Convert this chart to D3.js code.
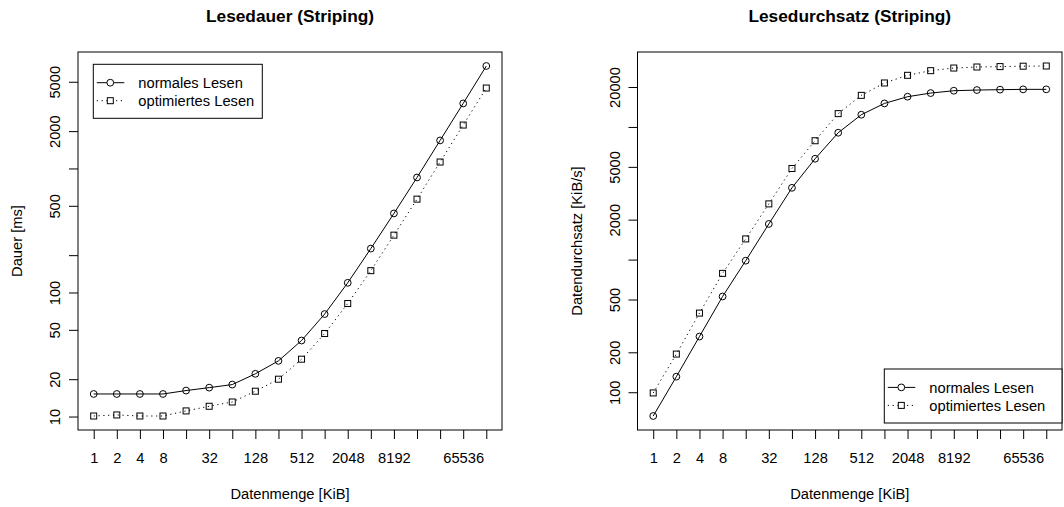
<!DOCTYPE html>
<html>
<head>
<meta charset="utf-8">
<script src="https://cdn.jsdelivr.net/npm/d3@7"></script>
<style>
  body { margin: 0; background: #fff; }
  svg { display: block; font-family: "Liberation Sans", Arial, sans-serif; }
</style>
</head>
<body>
<svg id="chart" width="1064" height="507"></svg>
<script>
// Datenmenge in KiB (x values)
const sizes = [1, 2, 4, 8, 16, 32, 64, 128, 256, 512, 1024, 2048, 4096, 8192, 16384, 32768, 65536, 131072];
const xLabels = [1, 2, 4, 8, 32, 128, 512, 2048, 8192, 65536];

// Lesedauer [ms]
const dauerNormal = [15.2, 15.2, 15.2, 15.2, 16.2, 17.1, 18.1, 22.1, 28.1, 41.0, 67, 119.7, 226, 434, 846, 1683, 3345, 6700];
const dauerOpt = [10.1, 10.3, 10.1, 10.1, 11.1, 12.1, 13.1, 16.0, 20.0, 29.0, 46.7, 81.5, 150, 290, 566, 1127, 2239, 4450];

// Lesedurchsatz [KiB/s]
const durchsatzNormal = [66.2, 131, 263, 527, 981, 1857, 3475, 5756, 9040, 12360, 15040, 16900, 18000, 18750, 18970, 19100, 19200, 19200];
const durchsatzOpt = [98.8, 194, 395, 787, 1432, 2630, 4860, 7870, 12600, 17300, 21450, 24500, 26560, 27800, 28300, 28500, 28700, 28800];

const dauerTicks = [10, 20, 50, 100, 200, 500, 1000, 2000, 5000];
const dauerLabels = [10, 20, 50, 100, 500, 2000, 5000];
const durchsatzTicks = [100, 200, 500, 1000, 2000, 5000, 10000, 20000];
const durchsatzLabels = [100, 200, 500, 2000, 5000, 20000];

const seriesNames = ["normales Lesen", "optimiertes Lesen"];

const svg = d3.select("#chart");
const fontSize = 14.7;

// R style log scale: data range extended by 4% on each side
function rLogScale(base, values, r0, r1) {
    const lo = Math.log(d3.min(values)) / Math.log(base);
    const hi = Math.log(d3.max(values)) / Math.log(base);
    const ext = (hi - lo) * 0.04;
    return d3.scaleLog().base(base)
        .domain([Math.pow(base, lo - ext), Math.pow(base, hi + ext)])
        .range([r0, r1]);
}

function drawPanel(p) {
    const g = svg.append("g");
    const x = rLogScale(2, sizes, p.x0, p.x1);
    const y = rLogScale(10, p.a.concat(p.b), p.y1, p.y0);

    // title
    g.append("text")
        .attr("x", (p.x0 + p.x1) / 2).attr("y", 22)
        .attr("text-anchor", "middle")
        .style("font-size", "17.3px").style("font-weight", "bold")
        .text(p.title);

    // x axis
    const xAxis = g.append("g")
        .attr("transform", `translate(0,${p.y1})`)
        .call(d3.axisBottom(x).tickValues(sizes).tickSize(9).tickSizeOuter(0)
            .tickFormat(d => xLabels.includes(d) ? String(d) : ""));
    xAxis.select(".domain").remove();
    xAxis.selectAll("line").attr("stroke", "#000");
    xAxis.selectAll("text")
        .attr("y", 33).attr("dy", 0)
        .attr("fill", "#000")
        .style("font-size", fontSize + "px")
        .style("font-family", "'Liberation Sans', Arial, sans-serif");

    // y axis
    const yAxis = g.append("g")
        .attr("transform", `translate(${p.x0},0)`)
        .call(d3.axisLeft(y).tickValues(p.ticks).tickSize(9).tickSizeOuter(0)
            .tickFormat(d => p.labels.includes(d) ? String(d) : ""));
    yAxis.select(".domain").remove();
    yAxis.selectAll("line").attr("stroke", "#000");
    yAxis.selectAll("text")
        .attr("transform", "rotate(-90)")
        .attr("x", 0).attr("y", -18).attr("dy", 0)
        .attr("text-anchor", "middle")
        .attr("fill", "#000")
        .style("font-size", fontSize + "px")
        .style("font-family", "'Liberation Sans', Arial, sans-serif");

    // axis titles
    g.append("text")
        .attr("x", (p.x0 + p.x1) / 2).attr("y", 499)
        .attr("text-anchor", "middle")
        .style("font-size", fontSize + "px")
        .text("Datenmenge [KiB]");
    g.append("text")
        .attr("transform", `translate(${p.x0 - 56},${(p.y0 + p.y1) / 2}) rotate(-90)`)
        .attr("text-anchor", "middle")
        .style("font-size", fontSize + "px")
        .text(p.ylab);

    // box
    g.append("rect")
        .attr("x", p.x0).attr("y", p.y0)
        .attr("width", p.x1 - p.x0).attr("height", p.y1 - p.y0)
        .attr("fill", "none").attr("stroke", "#000").attr("stroke-width", 1);

    const line = d3.line().x((d, i) => x(sizes[i])).y(d => y(d));

    g.append("path").datum(p.a)
        .attr("d", line).attr("fill", "none")
        .attr("stroke", "#000").attr("stroke-width", 1);
    g.append("path").datum(p.b)
        .attr("d", line).attr("fill", "none")
        .attr("stroke", "#000").attr("stroke-width", 1)
        .attr("stroke-dasharray", "1.2,3.6");

    g.selectAll(".pt-a").data(p.a).enter().append("circle")
        .attr("cx", (d, i) => x(sizes[i])).attr("cy", d => y(d))
        .attr("r", 3.4).attr("fill", "none").attr("stroke", "#000");
    g.selectAll(".pt-b").data(p.b).enter().append("rect")
        .attr("x", (d, i) => x(sizes[i]) - 3).attr("y", d => y(d) - 3)
        .attr("width", 6).attr("height", 6)
        .attr("fill", "none").attr("stroke", "#000");

    // legend
    const lg = g.append("g").attr("transform", `translate(${p.legX},${p.legY})`);
    lg.append("rect")
        .attr("width", p.legW).attr("height", 54)
        .attr("fill", "#fff").attr("stroke", "#000");
    seriesNames.forEach((name, i) => {
        const ry = 18.4 + i * 18;
        lg.append("line")
            .attr("x1", 3.5).attr("x2", 31).attr("y1", ry).attr("y2", ry)
            .attr("stroke", "#000")
            .attr("stroke-dasharray", i === 1 ? "1.2,3.6" : null);
        if (i === 0) {
            lg.append("circle").attr("cx", 17).attr("cy", ry).attr("r", 3.4)
                .attr("fill", "#fff").attr("stroke", "#000");
        } else {
            lg.append("rect").attr("x", 14).attr("y", ry - 3).attr("width", 6).attr("height", 6)
                .attr("fill", "#fff").attr("stroke", "#000");
        }
        lg.append("text")
            .attr("x", 45).attr("y", ry + 5.2)
            .style("font-size", fontSize + "px")
            .text(name);
    });
}

drawPanel({
    title: "Lesedauer (Striping)", ylab: "Dauer [ms]",
    x0: 78, x1: 502, y0: 52, y1: 430,
    a: dauerNormal, b: dauerOpt,
    ticks: dauerTicks, labels: dauerLabels,
    legX: 93.3, legY: 64.3, legW: 169
});

drawPanel({
    title: "Lesedurchsatz (Striping)", ylab: "Datendurchsatz [KiB/s]",
    x0: 637.5, x1: 1062, y0: 52, y1: 430,
    a: durchsatzNormal, b: durchsatzOpt,
    ticks: durchsatzTicks, labels: durchsatzLabels,
    legX: 884.3, legY: 369, legW: 177.7
});
</script>
</body>
</html>
